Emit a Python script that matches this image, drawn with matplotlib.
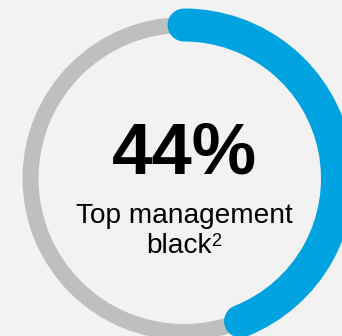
import matplotlib
matplotlib.use("Agg")
import matplotlib.pyplot as plt
from matplotlib.patches import Arc

# Data
share_pct = 44
value_label = "44%"
caption_line1 = "Top management"
caption_line2 = "black"
footnote_mark = "2"

W, H, DPI = 342, 336, 100
BG = "#f2f2f2"
TRACK = "#bfbfbf"
BLUE = "#00a3e0"

fig = plt.figure(figsize=(W / DPI, H / DPI), dpi=DPI, facecolor=BG)
ax = fig.add_axes([0, 0, 1, 1])
ax.set_xlim(0, W)
ax.set_ylim(H, 0)
ax.set_aspect("equal")
ax.axis("off")
ax.set_facecolor(BG)

cx, cy, r = 184, 178.5, 153.5
px = 72 / DPI  # points per pixel

# Background track (full circle)
track = Arc((cx, cy), 2 * r, 2 * r, theta1=0, theta2=360,
            color=TRACK, lw=16 * px)
ax.add_patch(track)

# Progress arc, clockwise from 12 o'clock (y axis inverted -> angles go clockwise)
sweep = share_pct / 100 * 360
prog = Arc((cx, cy), 2 * r, 2 * r, theta1=-90, theta2=-90 + sweep,
           color=BLUE, lw=33 * px, capstyle="round")
ax.add_patch(prog)

font = "Liberation Sans"
ax.text(cx, 173, value_label, ha="center", va="baseline",
        fontsize=72.5 * px, fontweight="bold", family=font, color="black")
ax.text(cx, 223, caption_line1, ha="center", va="baseline",
        fontsize=28 * px, family=font, color="black")

# Second caption line with a raised footnote mark, centred as one unit
t_main = ax.text(0, 253, caption_line2, ha="left", va="baseline",
                 fontsize=28 * px, family=font, color="black")
t_sup = ax.text(0, 246.5, footnote_mark, ha="left", va="baseline",
                fontsize=18 * px, family=font, color="black")
renderer = fig.canvas.get_renderer()
w_main = t_main.get_window_extent(renderer).width
w_sup = t_sup.get_window_extent(renderer).width
x0 = cx - (w_main + w_sup) / 2
t_main.set_x(x0)
t_sup.set_x(x0 + w_main - 0.5)

fig.savefig("out.png", dpi=DPI, facecolor=BG)
